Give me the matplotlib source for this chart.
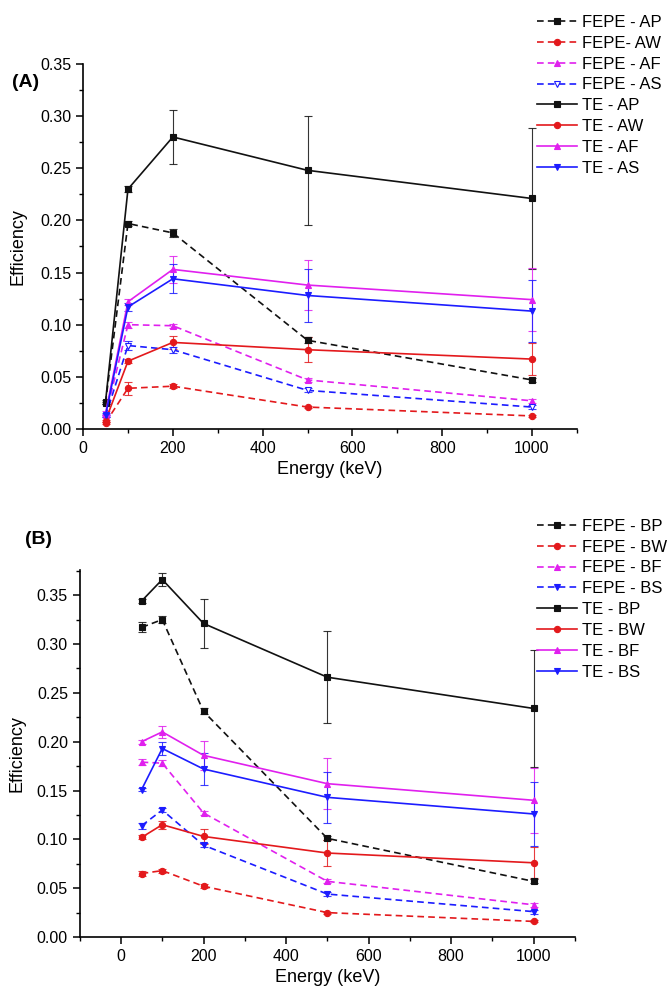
import matplotlib
matplotlib.use("Agg")
import matplotlib.pyplot as plt
from matplotlib.ticker import MultipleLocator

plt.rcParams['font.family'] = ['Liberation Sans', 'DejaVu Sans']

energy = [50, 100, 200, 500, 1000]

# panel A: detector efficiencies (FEPE = full energy peak, TE = total)
a_labels = ['FEPE - AP', 'FEPE- AW', 'FEPE - AF', 'FEPE - AS',
            'TE - AP', 'TE - AW', 'TE - AF', 'TE - AS']
a_values = [
    [0.025, 0.197, 0.188, 0.085, 0.047],
    [0.006, 0.039, 0.041, 0.021, 0.0125],
    [0.013, 0.100, 0.099, 0.047, 0.027],
    [0.012, 0.080, 0.076, 0.037, 0.021],
    [0.026, 0.230, 0.280, 0.248, 0.221],
    [0.008, 0.065, 0.083, 0.076, 0.067],
    [0.015, 0.122, 0.153, 0.138, 0.124],
    [0.013, 0.117, 0.144, 0.128, 0.113],
]
a_errors = [
    [0.001, 0.002, 0.004, 0.003, 0.002],
    [0.001, 0.006, 0.002, 0.001, 0.001],
    [0.001, 0.003, 0.002, 0.002, 0.002],
    [0.001, 0.004, 0.003, 0.002, 0.002],
    [0.002, 0.003, 0.026, 0.052, 0.068],
    [0.001, 0.002, 0.006, 0.012, 0.015],
    [0.002, 0.003, 0.013, 0.024, 0.030],
    [0.002, 0.004, 0.014, 0.025, 0.030],
]

# panel B
b_labels = ['FEPE - BP', 'FEPE - BW', 'FEPE - BF', 'FEPE - BS',
            'TE - BP', 'TE - BW', 'TE - BF', 'TE - BS']
b_values = [
    [0.317, 0.325, 0.231, 0.101, 0.057],
    [0.065, 0.068, 0.052, 0.025, 0.016],
    [0.179, 0.178, 0.127, 0.057, 0.033],
    [0.114, 0.130, 0.094, 0.044, 0.026],
    [0.344, 0.366, 0.321, 0.266, 0.234],
    [0.102, 0.115, 0.103, 0.086, 0.076],
    [0.200, 0.210, 0.186, 0.157, 0.140],
    [0.151, 0.193, 0.172, 0.143, 0.126],
]
b_errors = [
    [0.005, 0.004, 0.003, 0.002, 0.002],
    [0.003, 0.002, 0.002, 0.001, 0.001],
    [0.003, 0.003, 0.002, 0.002, 0.002],
    [0.003, 0.002, 0.002, 0.002, 0.002],
    [0.002, 0.007, 0.025, 0.047, 0.060],
    [0.002, 0.004, 0.008, 0.013, 0.016],
    [0.002, 0.006, 0.015, 0.026, 0.033],
    [0.002, 0.007, 0.016, 0.026, 0.033],
]

colors = ['#111111', '#e3191c', '#e020ee', '#1c1cff'] * 2
markers = ['s', 'o', '^', 'v'] * 2
styles = [(0, (4, 2.5))] * 4 + ['-'] * 4


def draw_panel(ax, labels, values, errors, open_marker=None):
    handles = []
    for i, (lab, y, e) in enumerate(zip(labels, values, errors)):
        c = colors[i]
        ax.errorbar(energy, y, yerr=e, fmt='none', ecolor=c, elinewidth=0.8,
                    capsize=3, capthick=0.8, alpha=0.85, zorder=2)
        face = 'white' if i == open_marker else c
        h, = ax.plot(energy, y, color=c, linestyle=styles[i], linewidth=1.2,
                     marker=markers[i], markersize=4.5, markerfacecolor=face,
                     markeredgecolor=c, markeredgewidth=0.8, label=lab, zorder=3)
        handles.append(h)
    ax.spines['top'].set_visible(False)
    ax.spines['right'].set_visible(False)
    ax.spines['left'].set_linewidth(1.2)
    ax.spines['bottom'].set_linewidth(1.2)
    ax.yaxis.set_major_locator(MultipleLocator(0.05))
    ax.yaxis.set_minor_locator(MultipleLocator(0.025))
    ax.xaxis.set_major_locator(MultipleLocator(200))
    ax.xaxis.set_minor_locator(MultipleLocator(100))
    ax.yaxis.set_major_formatter(plt.FormatStrFormatter('%.2f'))
    ax.tick_params(which='major', direction='out', length=5, width=1.1, labelsize=11.5)
    ax.tick_params(which='minor', direction='out', length=3, width=1.0)
    ax.set_xlabel('Energy (keV)', fontsize=13)
    ax.set_ylabel('Efficiency', fontsize=13)
    return handles


fig = plt.figure(figsize=(6.7, 9.9), dpi=100)

ax1 = fig.add_axes([0.124, 0.5667, 0.737, 0.3687])
h1 = draw_panel(ax1, a_labels, a_values, a_errors, open_marker=3)
ax1.set_xlim(0, 1100)
ax1.set_ylim(0, 0.35)
ax1.yaxis.set_label_coords(-0.115, 0.5)
fig.text(0.018, 0.912, '(A)', fontsize=14, fontweight='bold')
fig.legend(handles=h1, loc='upper left', bbox_to_anchor=(0.802, 0.985),
           frameon=False, fontsize=12, handlelength=2.4, handletextpad=0.3,
           labelspacing=0.35, borderaxespad=0, borderpad=0)

ax2 = fig.add_axes([0.119, 0.0535, 0.739, 0.371])
h2 = draw_panel(ax2, b_labels, b_values, b_errors)
ax2.set_xlim(-100, 1100)
ax2.set_ylim(0, 0.376)
ax2.yaxis.set_label_coords(-0.11, 0.5)
fig.text(0.037, 0.45, '(B)', fontsize=14, fontweight='bold')
fig.legend(handles=h2, loc='upper left', bbox_to_anchor=(0.802, 0.476),
           frameon=False, fontsize=12, handlelength=2.4, handletextpad=0.3,
           labelspacing=0.35, borderaxespad=0, borderpad=0)

fig.savefig('out.png', dpi=100)
